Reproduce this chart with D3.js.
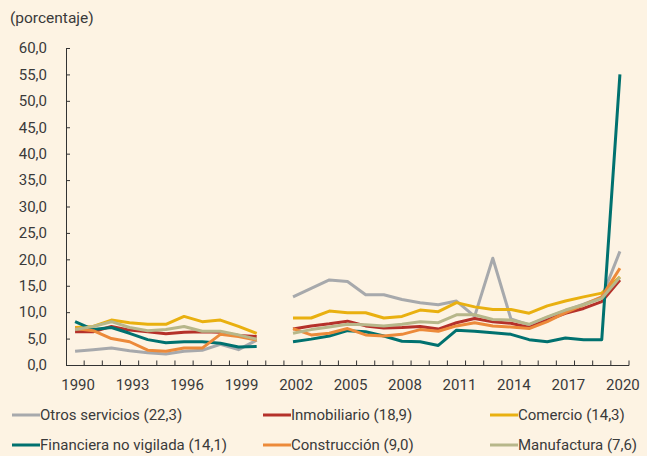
<!DOCTYPE html>
<html>
<head>
<meta charset="utf-8">
<script src="https://cdn.jsdelivr.net/npm/d3@7"></script>
<style>
  html, body { margin: 0; padding: 0; background: #fdf3e3; }
  svg { display: block; font-family: Roboto, "Noto Sans", sans-serif; }
</style>
</head>
<body>
<svg id="chart" width="647" height="456"></svg>
<script>
// años (2001 sin dato)
const years = d3.range(1990, 2021);
const yTicks = [0, 5, 10, 15, 20, 25, 30, 35, 40, 45, 50, 55, 60];
const xLabels = [1990, 1993, 1996, 1999, 2002, 2005, 2008, 2011, 2014, 2017, 2020];

const otrosServicios = [2.6, 2.9, 3.2, 2.7, 2.3, 2.1, 2.6, 2.8, 3.9, 2.9, 4.7, null,
  12.9, 14.5, 16.1, 15.8, 13.3, 13.3, 12.4, 11.8, 11.4, 12.1, 9.2, 20.2, 8.7, 7.6, 9.0, 10.3, 11.5, 12.8, 21.5];
const inmobiliario = [6.3, 6.3, 7.3, 6.6, 6.3, 5.9, 6.2, 6.3, 6.2, 5.6, 5.4, null,
  6.8, 7.4, 7.8, 8.3, 7.4, 7.0, 7.1, 7.3, 6.8, 8.0, 8.8, 8.2, 7.9, 7.1, 8.5, 9.8, 10.7, 12.0, 16.1];
const comercio = [7.1, 7.3, 8.5, 8.0, 7.7, 7.7, 9.2, 8.2, 8.5, 7.3, 6.0, null,
  8.9, 8.9, 10.2, 9.9, 9.9, 8.9, 9.2, 10.4, 10.1, 11.8, 11.0, 10.5, 10.5, 9.8, 11.2, 12.1, 12.9, 13.6, 16.7];
const financiera = [8.2, 6.7, 7.1, 6.0, 4.8, 4.2, 4.4, 4.4, 4.1, 3.4, 3.5, null,
  4.4, 4.9, 5.5, 6.5, 6.3, 5.5, 4.5, 4.4, 3.7, 6.6, 6.4, 6.1, 5.8, 4.8, 4.4, 5.1, 4.8, 4.8, 55.0];
const construccion = [6.9, 6.5, 5.0, 4.4, 2.8, 2.6, 3.2, 3.2, 5.8, 5.4, 4.7, null,
  6.9, 5.7, 6.0, 6.9, 5.7, 5.5, 5.8, 6.7, 6.4, 7.4, 8.0, 7.4, 7.2, 6.9, 8.2, 9.9, 11.4, 12.9, 18.3];
const manufactura = [6.7, 7.3, 8.2, 7.1, 6.5, 6.7, 7.3, 6.4, 6.4, 5.7, 4.9, null,
  6.0, 6.7, 7.2, 7.7, 7.6, 7.4, 7.7, 8.2, 8.0, 9.5, 9.5, 8.6, 8.5, 7.7, 9.1, 10.4, 11.4, 12.6, 16.6];

const series = [
  { name: "Otros servicios (22,3)", values: otrosServicios, color: "#a7a9ac" },
  { name: "Inmobiliario (18,9)", values: inmobiliario, color: "#b5312a" },
  { name: "Comercio (14,3)", values: comercio, color: "#e9b010" },
  { name: "Financiera no vigilada (14,1)", values: financiera, color: "#00716f" },
  { name: "Construcción (9,0)", values: construccion, color: "#ec8a3a" },
  { name: "Manufactura (7,6)", values: manufactura, color: "#b7b78a" }
];

const svg = d3.select("#chart");
const textColor = "#3a3a3a";
const fmt = (v) => v.toFixed(1).replace(".", ",");

const x = d3.scaleBand().domain(years).range([66, 629]);
const y = d3.scaleLinear().domain([0, 60]).range([365, 48]);
const cx = (yr) => x(yr) + x.bandwidth() / 2;

svg.append("text")
  .attr("x", 10).attr("y", 23)
  .attr("font-size", 15.5).attr("fill", textColor)
  .text("(porcentaje)");

// Y axis
const yAxis = svg.append("g")
  .attr("transform", "translate(66,0)")
  .call(d3.axisLeft(y).tickValues(yTicks).tickFormat(fmt).tickSize(-4).tickSizeOuter(0).tickPadding(19));
yAxis.selectAll("text").attr("font-size", 15).attr("fill", textColor).attr("font-family", "Roboto");
yAxis.selectAll("line, path").attr("stroke", "#333");

// X axis: line, boundary ticks, labels
const xAxis = svg.append("g").attr("transform", "translate(0,365.5)");
xAxis.append("line").attr("x1", 66).attr("x2", 629).attr("stroke", "#333");
xAxis.selectAll("line.tk")
  .data(years.slice(1).concat(["end"]))
  .enter().append("line")
  .attr("class", "tk")
  .attr("x1", (d) => (d === "end" ? x.range()[1] : x(d)))
  .attr("x2", (d) => (d === "end" ? x.range()[1] : x(d)))
  .attr("y1", 0).attr("y2", -5)
  .attr("stroke", "#333");
xAxis.selectAll("text")
  .data(xLabels)
  .enter().append("text")
  .attr("x", (d) => cx(d) + 3)
  .attr("y", 24)
  .attr("text-anchor", "middle")
  .attr("font-size", 15).attr("fill", textColor)
  .text((d) => d);

// Lines
const line = d3.line()
  .defined((d) => d.v != null)
  .x((d) => cx(d.yr))
  .y((d) => y(d.v));

svg.selectAll("path.serie")
  .data(series)
  .enter().append("path")
  .attr("class", "serie")
  .attr("fill", "none")
  .attr("stroke", (d) => d.color)
  .attr("stroke-width", 3)
  .attr("stroke-linejoin", "round")
  .attr("d", (d) => line(d.values.map((v, i) => ({ yr: years[i], v }))));

// Legend
const legX = [12, 263, 490];
const legY = [415, 445];
const leg = svg.selectAll("g.leg")
  .data(series)
  .enter().append("g")
  .attr("class", "leg")
  .attr("transform", (d, i) => `translate(${legX[i % 3]},${legY[Math.floor(i / 3)]})`);
leg.append("line")
  .attr("x1", 0).attr("x2", 28)
  .attr("stroke", (d) => d.color).attr("stroke-width", 3);
leg.append("text")
  .attr("x", 28).attr("dy", "0.35em")
  .attr("font-size", 15).attr("fill", textColor)
  .text((d) => d.name);
</script>
</body>
</html>
